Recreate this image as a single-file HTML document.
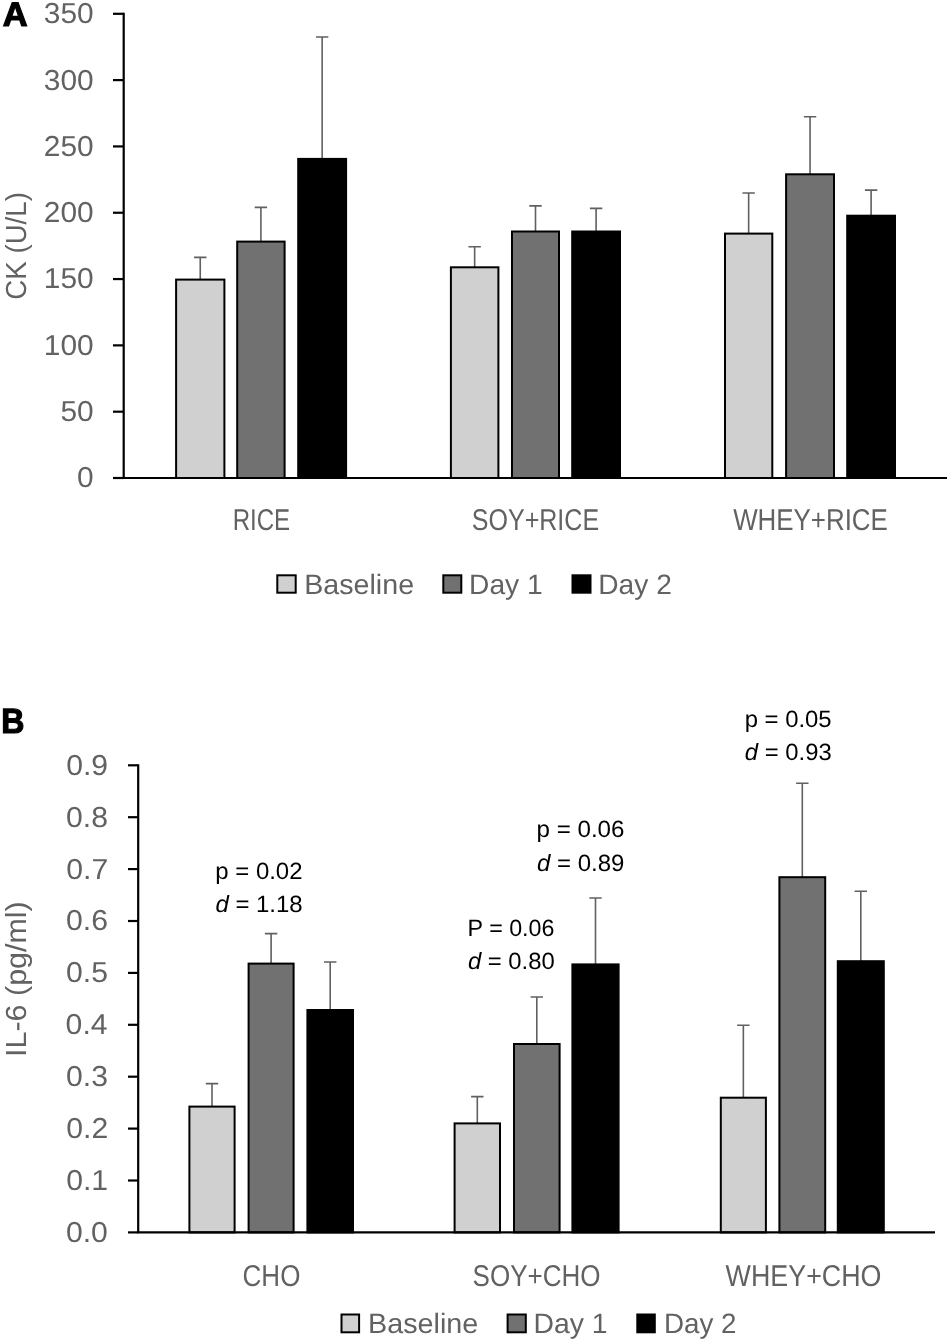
<!DOCTYPE html>
<html><head><meta charset="utf-8"><title>CK and IL-6</title>
<style>
html,body{margin:0;padding:0;background:#fff;}
body{width:950px;height:1342px;overflow:hidden;}
svg{display:block;font-family:"Liberation Sans",sans-serif;text-rendering:geometricPrecision;filter:grayscale(1);}
</style></head><body>
<svg width="950" height="1342" viewBox="0 0 950 1342">
<rect width="950" height="1342" fill="#fff"/>
<path d="M200.25 279.60V257.40M194.05 257.40H206.45" stroke="#606060" stroke-width="1.6" fill="none"/>
<path d="M260.90 241.60V207.40M254.70 207.40H267.10" stroke="#606060" stroke-width="1.6" fill="none"/>
<path d="M322.15 158.90V37.05M315.95 37.05H328.35" stroke="#606060" stroke-width="1.6" fill="none"/>
<path d="M474.65 267.30V246.70M468.45 246.70H480.85" stroke="#606060" stroke-width="1.6" fill="none"/>
<path d="M535.50 231.50V205.90M529.30 205.90H541.70" stroke="#606060" stroke-width="1.6" fill="none"/>
<path d="M596.10 231.50V208.40M589.90 208.40H602.30" stroke="#606060" stroke-width="1.6" fill="none"/>
<path d="M748.65 233.60V193.00M742.45 193.00H754.85" stroke="#606060" stroke-width="1.6" fill="none"/>
<path d="M810.05 174.30V116.80M803.85 116.80H816.25" stroke="#606060" stroke-width="1.6" fill="none"/>
<path d="M871.10 215.70V190.10M864.90 190.10H877.30" stroke="#606060" stroke-width="1.6" fill="none"/>
<rect x="176.10" y="279.60" width="48.30" height="198.40" fill="#d0d0d0" stroke="#000" stroke-width="2"/>
<rect x="237.20" y="241.60" width="47.40" height="236.40" fill="#717171" stroke="#000" stroke-width="2"/>
<rect x="298.20" y="158.90" width="47.90" height="319.10" fill="#000000" stroke="#000" stroke-width="2"/>
<rect x="450.90" y="267.30" width="47.50" height="210.70" fill="#d0d0d0" stroke="#000" stroke-width="2"/>
<rect x="512.00" y="231.50" width="47.00" height="246.50" fill="#717171" stroke="#000" stroke-width="2"/>
<rect x="572.20" y="231.50" width="47.80" height="246.50" fill="#000000" stroke="#000" stroke-width="2"/>
<rect x="725.00" y="233.60" width="47.30" height="244.40" fill="#d0d0d0" stroke="#000" stroke-width="2"/>
<rect x="786.10" y="174.30" width="47.90" height="303.70" fill="#717171" stroke="#000" stroke-width="2"/>
<rect x="847.20" y="215.70" width="47.80" height="262.30" fill="#000000" stroke="#000" stroke-width="2"/>
<path d="M123.70 12.80V478.00H947.00" stroke="#000" stroke-width="2.2" fill="none"/>
<path d="M113 478.00H123.70" stroke="#000" stroke-width="2.2"/>
<path d="M113 411.69H123.70" stroke="#000" stroke-width="2.2"/>
<path d="M113 345.37H123.70" stroke="#000" stroke-width="2.2"/>
<path d="M113 279.06H123.70" stroke="#000" stroke-width="2.2"/>
<path d="M113 212.74H123.70" stroke="#000" stroke-width="2.2"/>
<path d="M113 146.43H123.70" stroke="#000" stroke-width="2.2"/>
<path d="M113 80.11H123.70" stroke="#000" stroke-width="2.2"/>
<path d="M113 13.80H123.70" stroke="#000" stroke-width="2.2"/>
<text transform="translate(77.03,487.40) scale(1.0350,1)" font-size="28.9" fill="#626262"><tspan>0</tspan></text>
<text transform="translate(60.40,421.09) scale(1.0350,1)" font-size="28.9" fill="#626262"><tspan>50</tspan></text>
<text transform="translate(43.76,354.77) scale(1.0350,1)" font-size="28.9" fill="#626262"><tspan>100</tspan></text>
<text transform="translate(43.76,288.46) scale(1.0350,1)" font-size="28.9" fill="#626262"><tspan>150</tspan></text>
<text transform="translate(43.76,222.14) scale(1.0350,1)" font-size="28.9" fill="#626262"><tspan>200</tspan></text>
<text transform="translate(43.76,155.83) scale(1.0350,1)" font-size="28.9" fill="#626262"><tspan>250</tspan></text>
<text transform="translate(43.76,89.51) scale(1.0350,1)" font-size="28.9" fill="#626262"><tspan>300</tspan></text>
<text transform="translate(43.76,23.20) scale(1.0350,1)" font-size="28.9" fill="#626262"><tspan>350</tspan></text>
<path d="M212.00 1106.60V1083.60M205.80 1083.60H218.20" stroke="#606060" stroke-width="1.6" fill="none"/>
<path d="M271.10 963.60V933.60M264.90 933.60H277.30" stroke="#606060" stroke-width="1.6" fill="none"/>
<path d="M330.20 1010.00V962.00M324.00 962.00H336.40" stroke="#606060" stroke-width="1.6" fill="none"/>
<path d="M477.30 1123.40V1096.60M471.10 1096.60H483.50" stroke="#606060" stroke-width="1.6" fill="none"/>
<path d="M536.80 1044.00V997.00M530.60 997.00H543.00" stroke="#606060" stroke-width="1.6" fill="none"/>
<path d="M595.50 964.40V898.00M589.30 898.00H601.70" stroke="#606060" stroke-width="1.6" fill="none"/>
<path d="M743.35 1097.70V1025.20M737.15 1025.20H749.55" stroke="#606060" stroke-width="1.6" fill="none"/>
<path d="M802.30 877.20V783.30M796.10 783.30H808.50" stroke="#606060" stroke-width="1.6" fill="none"/>
<path d="M860.80 961.20V891.30M854.60 891.30H867.00" stroke="#606060" stroke-width="1.6" fill="none"/>
<rect x="189.40" y="1106.60" width="45.20" height="125.80" fill="#d0d0d0" stroke="#000" stroke-width="2"/>
<rect x="248.60" y="963.60" width="45.00" height="268.80" fill="#717171" stroke="#000" stroke-width="2"/>
<rect x="307.40" y="1010.00" width="45.60" height="222.40" fill="#000000" stroke="#000" stroke-width="2"/>
<rect x="454.60" y="1123.40" width="45.40" height="109.00" fill="#d0d0d0" stroke="#000" stroke-width="2"/>
<rect x="514.00" y="1044.00" width="45.60" height="188.40" fill="#717171" stroke="#000" stroke-width="2"/>
<rect x="572.40" y="964.40" width="46.20" height="268.00" fill="#000000" stroke="#000" stroke-width="2"/>
<rect x="720.80" y="1097.70" width="45.10" height="134.70" fill="#d0d0d0" stroke="#000" stroke-width="2"/>
<rect x="779.40" y="877.20" width="45.80" height="355.20" fill="#717171" stroke="#000" stroke-width="2"/>
<rect x="837.80" y="961.20" width="46.00" height="271.20" fill="#000000" stroke="#000" stroke-width="2"/>
<path d="M138.20 764.30V1232.40H935.00" stroke="#000" stroke-width="2.2" fill="none"/>
<path d="M128 1232.40H138.20" stroke="#000" stroke-width="2.2"/>
<path d="M128 1180.50H138.20" stroke="#000" stroke-width="2.2"/>
<path d="M128 1128.60H138.20" stroke="#000" stroke-width="2.2"/>
<path d="M128 1076.70H138.20" stroke="#000" stroke-width="2.2"/>
<path d="M128 1024.80H138.20" stroke="#000" stroke-width="2.2"/>
<path d="M128 972.90H138.20" stroke="#000" stroke-width="2.2"/>
<path d="M128 921.00H138.20" stroke="#000" stroke-width="2.2"/>
<path d="M128 869.10H138.20" stroke="#000" stroke-width="2.2"/>
<path d="M128 817.20H138.20" stroke="#000" stroke-width="2.2"/>
<path d="M128 765.30H138.20" stroke="#000" stroke-width="2.2"/>
<text transform="translate(65.90,1241.80) scale(1.0450,1)" font-size="28.9" fill="#626262"><tspan>0.0</tspan></text>
<text transform="translate(66.19,1189.90) scale(1.0450,1)" font-size="28.9" fill="#626262"><tspan>0.1</tspan></text>
<text transform="translate(66.24,1138.00) scale(1.0450,1)" font-size="28.9" fill="#626262"><tspan>0.2</tspan></text>
<text transform="translate(66.04,1086.10) scale(1.0450,1)" font-size="28.9" fill="#626262"><tspan>0.3</tspan></text>
<text transform="translate(65.60,1034.20) scale(1.0450,1)" font-size="28.9" fill="#626262"><tspan>0.4</tspan></text>
<text transform="translate(65.99,982.30) scale(1.0450,1)" font-size="28.9" fill="#626262"><tspan>0.5</tspan></text>
<text transform="translate(66.04,930.40) scale(1.0450,1)" font-size="28.9" fill="#626262"><tspan>0.6</tspan></text>
<text transform="translate(66.24,878.50) scale(1.0450,1)" font-size="28.9" fill="#626262"><tspan>0.7</tspan></text>
<text transform="translate(66.03,826.60) scale(1.0450,1)" font-size="28.9" fill="#626262"><tspan>0.8</tspan></text>
<text transform="translate(66.15,774.70) scale(1.0450,1)" font-size="28.9" fill="#626262"><tspan>0.9</tspan></text>
<text transform="translate(2.74,25.80) scale(1.0127,1)" font-size="34" fill="#000" stroke="#000" stroke-width="1.2"><tspan font-weight="bold">A</tspan></text>
<text transform="translate(1.35,733.40) scale(0.9182,1)" font-size="35" fill="#000" stroke="#000" stroke-width="1.2"><tspan font-weight="bold">B</tspan></text>
<text transform="translate(26.30,299.71) rotate(-90) scale(0.9542,1)" font-size="29" fill="#626262"><tspan>CK (U/L)</tspan></text>
<text transform="translate(25.60,1056.91) rotate(-90) scale(1.0495,1)" font-size="29" fill="#626262"><tspan>IL-6 (pg/ml)</tspan></text>
<text transform="translate(232.63,530.40) scale(0.8024,1)" font-size="30" fill="#626262"><tspan>RICE</tspan></text>
<text transform="translate(471.86,530.40) scale(0.8339,1)" font-size="30" fill="#626262"><tspan>SOY+RICE</tspan></text>
<text transform="translate(733.19,530.40) scale(0.8629,1)" font-size="30" fill="#626262"><tspan>WHEY+RICE</tspan></text>
<text transform="translate(242.58,1285.70) scale(0.8665,1)" font-size="30" fill="#626262"><tspan>CHO</tspan></text>
<text transform="translate(472.62,1285.70) scale(0.8671,1)" font-size="30" fill="#626262"><tspan>SOY+CHO</tspan></text>
<text transform="translate(725.58,1285.60) scale(0.8950,1)" font-size="30" fill="#626262"><tspan>WHEY+CHO</tspan></text>
<rect x="277.30" y="575.30" width="18.40" height="17.40" fill="#d0d0d0" stroke="#000" stroke-width="2"/>
<rect x="443.30" y="575.30" width="18.00" height="17.40" fill="#717171" stroke="#000" stroke-width="2"/>
<rect x="572.50" y="575.30" width="18.00" height="17.40" fill="#000000" stroke="#000" stroke-width="2"/>
<text transform="translate(304.25,593.70) scale(1.0225,1)" font-size="28" fill="#626262"><tspan>Baseline</tspan></text>
<text transform="translate(469.09,593.90) scale(1.0060,1)" font-size="28" fill="#626262"><tspan>Day 1</tspan></text>
<text transform="translate(598.29,593.90) scale(1.0052,1)" font-size="28" fill="#626262"><tspan>Day 2</tspan></text>
<rect x="341.50" y="1314.50" width="17.60" height="17.80" fill="#d0d0d0" stroke="#000" stroke-width="2"/>
<rect x="507.60" y="1314.50" width="18.20" height="17.80" fill="#717171" stroke="#000" stroke-width="2"/>
<rect x="637.30" y="1314.50" width="17.50" height="17.80" fill="#000000" stroke="#000" stroke-width="2"/>
<text transform="translate(368.04,1332.60) scale(1.0263,1)" font-size="28" fill="#626262"><tspan>Baseline</tspan></text>
<text transform="translate(533.58,1332.80) scale(1.0118,1)" font-size="28" fill="#626262"><tspan>Day 1</tspan></text>
<text transform="translate(663.92,1332.80) scale(0.9922,1)" font-size="28" fill="#626262"><tspan>Day 2</tspan></text>
<text transform="translate(215.26,878.80) scale(1.0194,1)" font-size="23.5" fill="#000"><tspan>p</tspan><tspan> = 0.02</tspan></text>
<text transform="translate(215.39,911.80) scale(1.0194,1)" font-size="23.5" fill="#000"><tspan font-style="italic">d</tspan><tspan> = 1.18</tspan></text>
<text transform="translate(467.59,935.70) scale(0.9890,1)" font-size="23.5" fill="#000"><tspan>P</tspan><tspan> = 0.06</tspan></text>
<text transform="translate(467.90,969.40) scale(1.0146,1)" font-size="23.5" fill="#000"><tspan font-style="italic">d</tspan><tspan> = 0.80</tspan></text>
<text transform="translate(536.54,837.20) scale(1.0272,1)" font-size="23.5" fill="#000"><tspan>p</tspan><tspan> = 0.06</tspan></text>
<text transform="translate(536.99,871.00) scale(1.0205,1)" font-size="23.5" fill="#000"><tspan font-style="italic">d</tspan><tspan> = 0.89</tspan></text>
<text transform="translate(744.66,726.90) scale(1.0158,1)" font-size="23.5" fill="#000"><tspan>p</tspan><tspan> = 0.05</tspan></text>
<text transform="translate(744.80,759.70) scale(1.0147,1)" font-size="23.5" fill="#000"><tspan font-style="italic">d</tspan><tspan> = 0.93</tspan></text>
</svg>
</body></html>
